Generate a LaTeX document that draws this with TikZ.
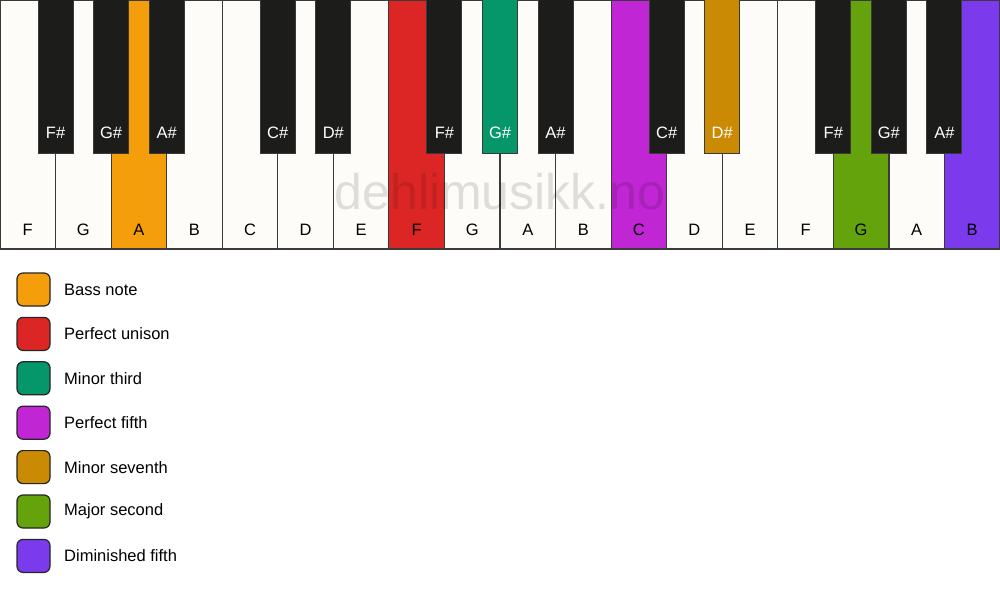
\documentclass[tikz,border=0pt]{standalone}
\usepackage{fontspec}
\setmainfont{Liberation Sans}
\definecolor{keywhite}{HTML}{FDFCF9}
\definecolor{keyblack}{HTML}{1C1C1B}
\definecolor{keyedge}{HTML}{3A3A3A}
\definecolor{cbass}{HTML}{F59E0B}
\definecolor{cunison}{HTML}{DC2626}
\definecolor{cminthird}{HTML}{059669}
\definecolor{cfifth}{HTML}{C026D3}
\definecolor{cminsev}{HTML}{CA8A04}
\definecolor{cmajsec}{HTML}{65A30D}
\definecolor{cdimfifth}{HTML}{7C3AED}
\tikzset{
  whitekey/.style={draw=keyedge, line width=1.2pt, fill=keywhite, minimum width=55.556pt, minimum height=249pt, inner sep=0pt, outer sep=0pt, anchor=north west},
  blackkey/.style={draw=keyedge, line width=1pt, fill=keyblack, minimum width=35pt, minimum height=153pt, inner sep=0pt, outer sep=0pt, anchor=north},
  wlabel/.style={font=\fontsize{16.5}{19}\selectfont, text=black, anchor=center},
  blabel/.style={font=\fontsize{16.5}{19}\selectfont, text=white, anchor=center},
  legbox/.style={draw=black!85, line width=1.2pt, rounded corners=6pt, minimum width=33pt, minimum height=33pt, inner sep=0pt, anchor=center},
  legtext/.style={font=\fontsize{16.5}{19}\selectfont, anchor=west, inner sep=0pt},
  wmark/.style={font=\fontsize{50}{58}\selectfont, text=black, text opacity=0.12, anchor=center}
}
\begin{document}
\begin{tikzpicture}[x=1pt,y=-1pt]
\fill[white] (0,0) rectangle (1000,594);
\useasboundingbox (0,0) rectangle (1000,594);
% white keys
\foreach \i/\n/\c in {0/F/keywhite,1/G/keywhite,2/A/cbass,3/B/keywhite,4/C/keywhite,5/D/keywhite,6/E/keywhite,7/F/cunison,8/G/keywhite,9/A/keywhite,10/B/keywhite,11/C/cfifth,12/D/keywhite,13/E/keywhite,14/F/keywhite,15/G/cmajsec,16/A/keywhite,17/B/cdimfifth}{
  \node[whitekey, fill=\c] (w\i) at ({\i*55.5556},0) {};
  \node[wlabel] (wl\i) at ({(\i+0.5)*55.5556},230) {\n};
}
% watermark
\node[wmark] (wm) at (500,192) {dehlimusikk.no};
% black keys
\foreach \k/\n/\c in {1/F\#/keyblack,2/G\#/keyblack,3/A\#/keyblack,5/C\#/keyblack,6/D\#/keyblack,8/F\#/keyblack,9/G\#/cminthird,10/A\#/keyblack,12/C\#/keyblack,13/D\#/cminsev,15/F\#/keyblack,16/G\#/keyblack,17/A\#/keyblack}{
  \node[blackkey, fill=\c] (b\k) at ({\k*55.5556},0) {};
  \node[blabel] (bl\k) at ({\k*55.5556},133) {\n};
}
% legend
\foreach \j/\c/\t in {0/cbass/Bass note,1/cunison/Perfect unison,2/cminthird/Minor third,3/cfifth/Perfect fifth,4/cminsev/Minor seventh,5/cmajsec/Major second,6/cdimfifth/Diminished fifth}{
  \node[legbox, fill=\c] (lg\j) at (33.5,{289.5+\j*44.4}) {};
  \node[legtext] (lt\j) at (64,{289.5+\j*44.4}) {\t};
}
\end{tikzpicture}
\end{document}
